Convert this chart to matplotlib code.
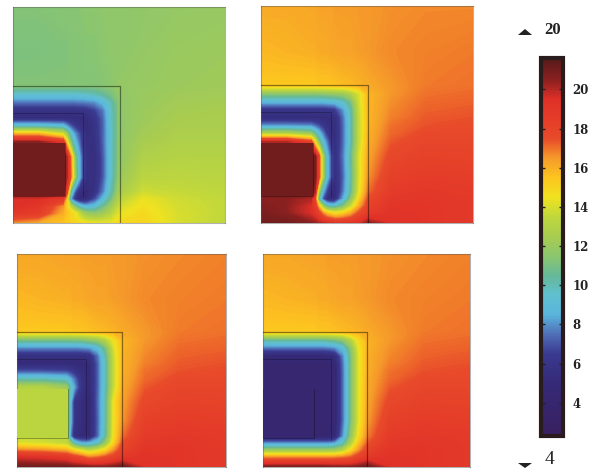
"""Four temperature maps sharing one colour bar."""
import matplotlib
matplotlib.use("Agg")
import matplotlib.pyplot as plt
import numpy as np
from matplotlib.cm import ScalarMappable
from matplotlib.colors import LinearSegmentedColormap, Normalize
from matplotlib.patches import Polygon, Rectangle

W, H = 600, 469

# sample positions inside a panel, picture pixels from left / from top
x_nodes = [0, 25, 50, 54, 58, 62, 66, 70, 74, 82, 90, 98, 107, 130, 165, 212]
y_nodes = [0, 45, 79, 87, 95, 103, 111, 119, 127, 135, 150, 170, 185, 192, 199, 206, 216]

panel1_values = [
    [11.3, 11.3, 11.4, 11.4, 11.4, 11.4, 11.4, 11.5, 11.5, 11.5, 11.6, 11.6, 11.6, 11.7, 11.8, 11.9],
    [11.1, 11.1, 11.2, 11.2, 11.3, 11.3, 11.3, 11.3, 11.4, 11.4, 11.5, 11.6, 11.6, 11.8, 12.0, 12.1],
    [11.3, 11.3, 11.3, 11.3, 11.3, 11.3, 11.3, 11.3, 11.3, 11.3, 11.4, 11.5, 11.8, 11.9, 12.1, 12.2],
    [9.5, 9.5, 9.5, 9.5, 9.5, 9.5, 9.6, 9.6, 9.7, 10.0, 10.4, 11.0, 11.7, 12.0, 12.2, 12.3],
    [7.6, 7.6, 7.6, 7.6, 7.6, 7.6, 7.7, 7.7, 7.8, 8.0, 8.8, 10.0, 11.6, 12.0, 12.3, 12.4],
    [5.8, 5.8, 5.8, 5.8, 5.8, 5.8, 5.9, 5.9, 6.0, 6.6, 7.6, 9.7, 11.6, 12.1, 12.4, 12.5],
    [5.2, 5.2, 5.2, 5.2, 5.2, 5.2, 5.2, 5.2, 5.3, 6.0, 7.3, 9.6, 11.6, 12.1, 12.5, 12.6],
    [9.5, 9.5, 9.0, 8.0, 7.0, 6.3, 5.8, 5.4, 5.2, 5.8, 7.2, 9.6, 11.6, 12.2, 12.6, 12.6],
    [16.0, 16.0, 14.0, 12.0, 9.5, 8.0, 7.0, 6.0, 5.3, 5.8, 7.2, 9.5, 11.6, 12.3, 12.7, 12.7],
    [20.5, 20.5, 19.0, 15.0, 11.0, 9.0, 7.5, 6.0, 5.4, 5.6, 7.2, 9.5, 11.7, 12.5, 12.8, 12.8],
    [21.0, 21.0, 21.0, 20.0, 16.5, 11.5, 8.8, 6.5, 5.5, 5.5, 7.0, 9.5, 11.7, 12.8, 13.0, 13.0],
    [21.0, 21.0, 21.0, 20.0, 17.0, 12.0, 9.0, 6.5, 5.4, 5.5, 7.0, 9.5, 12.0, 13.2, 13.3, 13.2],
    [21.0, 21.0, 21.0, 18.0, 10.0, 7.0, 5.5, 5.0, 5.0, 5.8, 7.6, 10.0, 12.5, 13.8, 13.6, 13.4],
    [19.5, 19.5, 18.5, 15.0, 8.0, 6.0, 5.2, 5.0, 5.3, 6.8, 8.8, 10.8, 13.2, 14.4, 13.8, 13.5],
    [19.5, 19.0, 16.5, 15.0, 13.0, 11.0, 9.5, 8.7, 8.5, 9.0, 10.5, 12.0, 13.8, 14.6, 13.9, 13.5],
    [19.0, 18.5, 16.0, 15.5, 15.0, 14.5, 13.5, 12.5, 11.8, 11.5, 12.0, 13.0, 14.3, 14.8, 14.0, 13.5],
    [16.5, 16.0, 15.5, 15.3, 15.0, 14.9, 14.8, 14.7, 14.5, 14.4, 14.3, 14.3, 14.8, 15.0, 14.0, 13.4],
]

panel2_values = [
    [16.1, 16.1, 16.2, 16.2, 16.3, 16.3, 16.3, 16.3, 16.4, 16.4, 16.4, 16.5, 16.5, 16.6, 16.7, 16.7],
    [15.8, 15.9, 16.0, 16.0, 16.1, 16.1, 16.1, 16.2, 16.2, 16.3, 16.3, 16.4, 16.5, 16.7, 16.8, 16.9],
    [15.4, 15.4, 15.4, 15.4, 15.5, 15.5, 15.5, 15.5, 15.6, 15.7, 15.8, 15.9, 16.1, 16.5, 16.9, 17.0],
    [11.5, 11.5, 11.5, 11.5, 11.6, 11.6, 11.7, 11.8, 11.9, 12.1, 12.8, 14.0, 15.8, 16.5, 17.0, 17.1],
    [8.8, 8.8, 8.8, 8.8, 8.8, 8.8, 8.9, 9.0, 9.1, 9.6, 11.0, 13.8, 15.8, 16.6, 17.1, 17.2],
    [6.0, 6.0, 6.0, 6.0, 6.0, 6.0, 6.1, 6.2, 6.4, 8.0, 10.2, 13.6, 15.8, 16.7, 17.2, 17.3],
    [5.2, 5.2, 5.2, 5.2, 5.2, 5.2, 5.2, 5.3, 5.4, 7.4, 10.0, 13.5, 15.8, 16.8, 17.3, 17.4],
    [8.0, 8.0, 7.8, 7.3, 6.8, 6.2, 5.7, 5.4, 5.3, 7.3, 10.0, 13.5, 15.8, 17.0, 17.4, 17.5],
    [13.0, 13.0, 12.0, 10.5, 9.0, 7.6, 6.3, 5.5, 5.2, 7.3, 10.0, 13.5, 15.9, 17.1, 17.6, 17.6],
    [20.0, 20.0, 18.0, 14.5, 11.0, 9.0, 7.5, 6.0, 5.3, 7.3, 10.0, 13.5, 16.0, 17.3, 17.8, 17.8],
    [21.0, 21.0, 21.0, 21.0, 18.0, 12.5, 9.0, 7.0, 5.5, 7.5, 10.5, 14.0, 16.2, 17.7, 18.1, 18.0],
    [21.0, 21.0, 21.0, 21.0, 18.0, 12.5, 9.0, 7.0, 5.4, 7.2, 10.3, 14.0, 16.5, 18.2, 18.5, 18.4],
    [21.0, 21.0, 21.0, 20.0, 12.0, 8.5, 6.5, 5.2, 5.0, 7.5, 10.5, 14.2, 17.0, 18.6, 18.9, 18.7],
    [20.5, 20.5, 20.0, 18.0, 10.0, 7.0, 5.5, 5.0, 5.3, 8.3, 11.5, 15.0, 17.5, 18.9, 19.0, 18.8],
    [20.7, 20.5, 19.5, 18.5, 15.5, 12.0, 10.0, 9.5, 9.5, 11.0, 13.5, 16.0, 18.0, 19.1, 19.1, 18.8],
    [20.8, 20.5, 19.5, 19.0, 18.0, 16.5, 15.5, 15.0, 14.5, 15.0, 16.0, 17.5, 18.5, 19.2, 19.1, 18.8],
    [21.0, 21.0, 20.5, 20.3, 20.0, 19.8, 19.5, 19.3, 19.0, 19.0, 19.0, 19.3, 20.5, 19.4, 19.1, 18.8],
]

panel3_values = [
    [16.2, 16.2, 16.3, 16.3, 16.3, 16.3, 16.4, 16.4, 16.4, 16.4, 16.4, 16.5, 16.5, 16.6, 16.7, 16.8],
    [15.8, 15.9, 16.0, 16.0, 16.1, 16.1, 16.1, 16.2, 16.2, 16.3, 16.3, 16.4, 16.5, 16.7, 16.8, 16.9],
    [15.4, 15.4, 15.4, 15.4, 15.5, 15.5, 15.5, 15.5, 15.6, 15.7, 15.8, 15.9, 16.1, 16.5, 16.9, 17.0],
    [11.0, 11.0, 11.0, 11.0, 11.1, 11.1, 11.2, 11.4, 11.6, 12.0, 13.0, 14.5, 15.8, 16.5, 17.0, 17.1],
    [7.9, 7.9, 7.9, 7.9, 7.9, 7.9, 8.0, 8.1, 8.2, 9.0, 11.0, 13.9, 15.8, 16.6, 17.1, 17.2],
    [5.5, 5.5, 5.5, 5.5, 5.5, 5.5, 5.5, 5.6, 5.8, 7.5, 10.2, 13.6, 15.9, 16.7, 17.2, 17.3],
    [5.0, 5.0, 5.0, 5.0, 5.0, 5.0, 5.0, 5.1, 5.2, 7.2, 10.0, 13.5, 15.9, 16.8, 17.3, 17.4],
    [7.0, 7.0, 6.8, 6.5, 6.0, 5.6, 5.3, 5.1, 5.1, 7.2, 10.0, 13.5, 15.9, 17.0, 17.4, 17.5],
    [10.0, 10.0, 9.5, 8.5, 7.5, 6.5, 5.7, 5.3, 5.2, 7.2, 10.0, 13.5, 16.0, 17.1, 17.6, 17.6],
    [13.0, 13.0, 12.0, 10.0, 8.3, 6.8, 5.8, 5.2, 5.1, 7.2, 10.0, 13.5, 16.1, 17.3, 17.8, 17.8],
    [13.3, 13.3, 13.3, 9.0, 6.0, 5.5, 5.2, 5.0, 5.0, 7.3, 10.2, 14.5, 16.3, 17.7, 18.1, 18.0],
    [13.3, 13.3, 13.3, 9.0, 6.0, 5.5, 5.2, 5.0, 5.0, 7.2, 10.2, 14.5, 16.5, 18.2, 18.5, 18.4],
    [13.3, 13.3, 13.3, 8.0, 5.5, 5.2, 5.0, 5.0, 5.0, 7.3, 10.4, 14.6, 17.0, 18.6, 18.9, 18.7],
    [14.2, 14.0, 13.5, 12.0, 10.0, 9.0, 8.5, 8.5, 8.7, 9.5, 12.0, 15.0, 17.5, 18.9, 19.0, 18.8],
    [16.8, 16.6, 16.0, 15.5, 15.0, 14.5, 14.0, 13.5, 13.3, 14.0, 15.0, 16.5, 18.0, 19.1, 19.1, 18.8],
    [19.5, 19.3, 18.8, 18.4, 18.0, 17.8, 17.5, 17.0, 16.7, 17.0, 17.5, 18.0, 18.8, 19.2, 19.1, 18.8],
    [21.0, 21.0, 21.0, 20.9, 20.8, 20.8, 20.7, 20.7, 20.6, 20.5, 20.5, 20.7, 21.0, 19.4, 19.1, 18.8],
]

panel4_values = [
    [16.2, 16.2, 16.3, 16.3, 16.3, 16.3, 16.4, 16.4, 16.4, 16.4, 16.4, 16.5, 16.5, 16.6, 16.7, 16.8],
    [15.8, 15.9, 16.0, 16.0, 16.1, 16.1, 16.1, 16.2, 16.2, 16.3, 16.3, 16.4, 16.5, 16.7, 16.8, 16.9],
    [15.4, 15.4, 15.4, 15.4, 15.5, 15.5, 15.5, 15.5, 15.6, 15.7, 15.8, 15.9, 16.1, 16.5, 16.9, 17.0],
    [10.5, 10.5, 10.5, 10.5, 10.5, 10.5, 10.7, 10.8, 11.0, 11.5, 13.0, 14.8, 15.9, 16.5, 17.0, 17.1],
    [7.6, 7.6, 7.6, 7.6, 7.6, 7.6, 7.7, 7.8, 8.0, 9.0, 11.5, 14.3, 15.9, 16.6, 17.1, 17.2],
    [4.8, 4.8, 4.8, 4.8, 4.8, 4.8, 4.9, 5.0, 5.3, 7.8, 11.0, 14.2, 16.0, 16.7, 17.2, 17.3],
    [4.2, 4.2, 4.2, 4.2, 4.2, 4.2, 4.2, 4.3, 4.7, 7.5, 11.0, 14.2, 16.0, 16.8, 17.3, 17.4],
    [4.2, 4.2, 4.2, 4.2, 4.2, 4.2, 4.2, 4.2, 4.5, 7.4, 11.0, 14.2, 16.0, 17.0, 17.4, 17.5],
    [4.2, 4.2, 4.2, 4.2, 4.2, 4.2, 4.2, 4.2, 4.5, 7.4, 11.0, 14.2, 16.1, 17.1, 17.6, 17.6],
    [4.2, 4.2, 4.2, 4.2, 4.2, 4.2, 4.2, 4.2, 4.5, 7.4, 11.0, 14.2, 16.1, 17.3, 17.8, 17.8],
    [4.2, 4.2, 4.2, 4.2, 4.2, 4.2, 4.2, 4.2, 4.5, 7.4, 11.0, 14.2, 16.2, 17.7, 18.1, 18.0],
    [4.2, 4.2, 4.2, 4.2, 4.2, 4.2, 4.2, 4.2, 4.5, 7.4, 11.0, 14.2, 16.4, 18.2, 18.5, 18.4],
    [4.2, 4.2, 4.2, 4.2, 4.2, 4.2, 4.2, 4.3, 4.8, 8.0, 11.7, 14.7, 16.8, 18.6, 18.9, 18.7],
    [8.0, 8.0, 8.0, 8.0, 8.0, 8.0, 8.0, 8.1, 8.3, 9.8, 12.8, 15.5, 17.3, 18.9, 19.0, 18.8],
    [12.0, 12.0, 12.0, 12.0, 12.0, 12.0, 12.0, 12.1, 12.2, 13.0, 14.8, 16.5, 18.0, 19.1, 19.1, 18.8],
    [16.5, 16.5, 16.5, 16.5, 16.5, 16.5, 16.5, 16.5, 16.6, 16.8, 17.2, 18.0, 18.8, 19.2, 19.1, 18.8],
    [20.8, 20.8, 20.8, 20.8, 20.8, 20.8, 20.7, 20.6, 20.6, 20.5, 20.5, 20.7, 21.0, 19.4, 19.1, 18.8],
]

panel_values = [panel1_values, panel2_values, panel3_values, panel4_values]
core_values = [21.0, 21.0, 13.3, 4.2]
core_tops = [136, 136, 137, 137]
core_bottoms = [189, 189, 187, 187]

# left, top, right, bottom of each panel in picture pixels
panel_boxes = [(13, 7, 225, 223), (261, 6, 473, 223), (17, 254, 226, 467), (263, 254, 470, 467)]

bar_ticks = [4, 6, 8, 10, 12, 14, 16, 18, 20]
bar_min, bar_max = 2.3, 21.6
data_max, data_min = 20, 4

cmap_values = [2.3, 5, 6.5, 7.5, 8.5, 9.5, 10.5, 11.5, 12.5, 13.5, 14.5, 15.5, 16.5, 17.5, 19.5, 20.5, 21.6]
cmap_colors = ["#38205f", "#352a78", "#3a3a90", "#5070b8", "#5ab4dc", "#60c0d0", "#66b898", "#8cc66e",
               "#a8cc50", "#c0d83c", "#f0e220", "#fdc51f", "#f59a2a", "#e84a2a", "#e03028", "#8b2020", "#551a1a"]

norm = Normalize(bar_min, bar_max)
cmap = LinearSegmentedColormap.from_list(
    "bar", [(norm(v), c) for v, c in zip(cmap_values, cmap_colors)], N=512)


def px_axes(fig, left, top, right, bottom):
    return fig.add_axes([left / W, 1 - bottom / H, (right - left) / W, (bottom - top) / H])


fig = plt.figure(figsize=(W / 100, H / 100), dpi=100, facecolor="white")

levels = np.linspace(bar_min, bar_max, 400)
for box, values, core, core_top, core_bottom in zip(panel_boxes, panel_values, core_values, core_tops, core_bottoms):
    ax = px_axes(fig, *box)
    ax.contourf(x_nodes, y_nodes, values, levels=levels, cmap=cmap, norm=norm, antialiased=False)
    ax.set_xlim(0, 212)
    ax.set_ylim(216, 0)
    ax.set_xticks([])
    ax.set_yticks([])
    for spine in ax.spines.values():
        spine.set_color("#555555")
        spine.set_alpha(0.45)
        spine.set_linewidth(0.8)
    # core block and the thin outlines of the layers around it
    ax.add_patch(Rectangle((0, core_top), 52, core_bottom - core_top, facecolor=cmap(norm(core)),
                           edgecolor="none", zorder=3))
    ax.plot([52, 52, 0], [core_top, core_bottom, core_bottom], color="black", alpha=0.3, lw=0.7, zorder=4)
    ax.plot([0, 70, 70], [106, 106, 189], color="black", alpha=0.25, lw=0.7, zorder=4)
    ax.plot([0, 107, 107], [79, 79, 216], color="black", alpha=0.45, lw=0.9, zorder=4)

cax = px_axes(fig, 541, 58, 563, 436)
cb = fig.colorbar(ScalarMappable(norm=norm, cmap=cmap), cax=cax, ticks=bar_ticks)
cb.outline.set_edgecolor("#2a1c1c")
cb.outline.set_linewidth(3)
cax.tick_params(axis="y", direction="in", length=3, width=1, color="#222222", left=True, right=True,
                labelsize=8.5, pad=7)
for label in cax.get_yticklabels():
    label.set_fontfamily("DejaVu Serif")
    label.set_fontweight("bold")
    label.set_color("#222222")

# max / min markers above and below the bar
over = fig.add_axes([0, 0, 1, 1], facecolor="none")
over.set_xlim(0, W)
over.set_ylim(H, 0)
over.axis("off")
over.add_patch(Polygon([(518, 35), (532, 35), (525, 29)], facecolor="#222222"))
over.add_patch(Polygon([(518, 463), (532, 463), (525, 468)], facecolor="#222222"))
over.text(544.5, 30, str(data_max), family="Liberation Serif", fontweight="bold", fontsize=12,
          color="#222222", ha="left", va="center")
over.text(544.5, 459, str(data_min), family="Liberation Serif", fontsize=14,
          color="#222222", ha="left", va="center")

fig.savefig("out.png", dpi=100)
plt.close(fig)
